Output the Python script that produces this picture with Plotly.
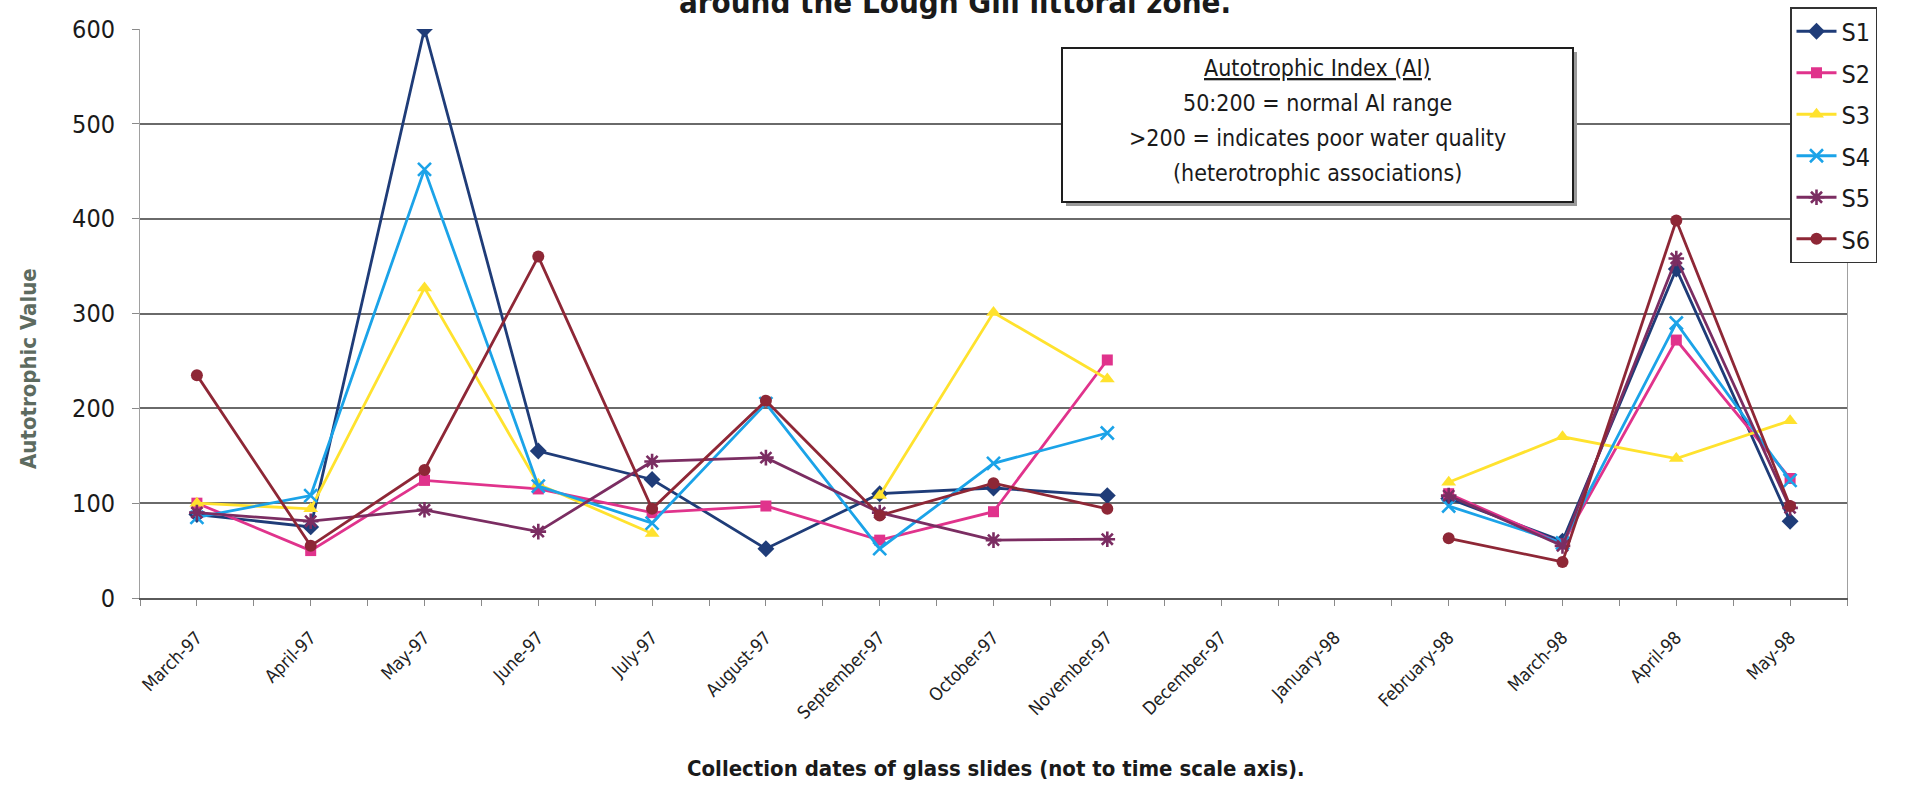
import plotly.graph_objects as go

# Collection dates (category axis, not to time scale)
months = ["March-97", "April-97", "May-97", "June-97", "July-97", "August-97",
          "September-97", "October-97", "November-97", "December-97", "January-98",
          "February-98", "March-98", "April-98", "May-98"]

# Autotrophic index per site (None = no sample)
s1 = [88, 75, 600, 155, 125, 52, 110, 116, 108, None, None, 105, 60, 347, 81]
s2 = [100, 50, 124, 115, 90, 97, 61, 91, 251, None, None, 110, 57, 272, 126]
s3 = [100, 94, 327, 120, 68, None, 108, 301, 231, None, None, 122, 170, 147, 187]
s4 = [85, 108, 452, 118, 79, 205, 52, 142, 174, None, None, 97, 58, 290, 124]
s5 = [90, 81, 93, 70, 144, 148, 90, 61, 62, None, None, 108, 55, 358, 95]
s6 = [235, 55, 135, 360, 94, 208, 87, 121, 94, None, None, 63, 38, 398, 97]

y_ticks = [0, 100, 200, 300, 400, 500, 600]

W, H = 1906, 787
L, R, T, B = 140, 1847, 29, 598
FONT = "DejaVu Sans Condensed, DejaVu Sans, sans-serif"


def px_x(px):
    return (px - L) / (R - L)


def px_y(py):
    return (B - py) / (B - T)


xs = list(range(len(months)))

series = [
    ("S1", s1, "#1f3c78", "diamond", 13),
    ("S2", s2, "#e0338c", "square", 11),
    ("S3", s3, "#ffe22e", "triangle-up", 13),
    ("S4", s4, "#1ba3e8", "x-thin-open", 13),
    ("S5", s5, "#7b2d62", "asterisk-open", 13),
    ("S6", s6, "#8e2736", "circle", 12),
]

fig = go.Figure()
for name, vals, color, sym, size in series:
    open_sym = sym.endswith("-open")
    fig.add_trace(go.Scatter(
        x=xs, y=vals, name=name, mode="lines+markers",
        legendgroup=name,
        line=dict(color=color, width=2.8),
        marker=dict(symbol=sym, size=size, color=color,
                    line=dict(color=color, width=2.6 if open_sym else 0)),
    ))

boundaries = [i - 0.5 for i in range(len(months) + 1)]

fig.update_layout(
    width=W, height=H,
    margin=dict(l=L, r=W - R, t=T, b=H - B, pad=0, autoexpand=False),
    paper_bgcolor="white", plot_bgcolor="white",
    font=dict(family=FONT, color="#1a1a1a"),
    showlegend=True,
    legend=dict(
        x=px_x(1790), y=px_y(7), xanchor="left", yanchor="top",
        bgcolor="white", bordercolor="#333333", borderwidth=1.5,
        font=dict(size=25, family=FONT, color="#1a1a1a"),
        tracegroupgap=6, itemwidth=40,
    ),
    xaxis=dict(
        range=[-0.5, len(months) - 0.5],
        tickmode="array", tickvals=xs, ticktext=months,
        tickangle=-45, tickfont=dict(size=18, family=FONT, color="#222"),
        ticks="outside", ticklen=6, tickwidth=1, tickcolor="#8a8a8a",
        ticklabelstandoff=14,
        minor=dict(tickmode="array", tickvals=boundaries, ticks="outside",
                   ticklen=6, tickwidth=1, tickcolor="#8a8a8a"),
        showline=True, linecolor="#5a5a5a", linewidth=2,
        showgrid=False, zeroline=False,
    ),
    xaxis2=dict(
        overlaying="x", anchor="y", side="bottom",
        range=[-0.5, len(months) - 0.5],
        tickmode="array", tickvals=xs, showticklabels=False,
        ticks="inside", ticklen=6, tickwidth=1, tickcolor="#8a8a8a",
        minor=dict(tickmode="array", tickvals=boundaries, ticks="inside",
                   ticklen=6, tickwidth=1, tickcolor="#8a8a8a"),
        showline=False, showgrid=False, zeroline=False,
    ),
    yaxis=dict(
        range=[0, 600], tickmode="array", tickvals=y_ticks,
        tickfont=dict(size=25, family=FONT, color="#1a1a1a"),
        ticks="outside", ticklen=7, tickwidth=1, tickcolor="#8a8a8a",
        ticklabelstandoff=12,
        showgrid=True, gridcolor="#6a6a6a", gridwidth=1.6,
        showline=True, linecolor="#a0a0a0", linewidth=1, mirror=True,
        zeroline=False,
    ),
)

# Information box (shadow + white box) for the AI thresholds
bx0, bx1, by0, by1 = 1062, 1573, 48, 202
fig.add_shape(type="rect", xref="paper", yref="paper", layer="above",
              x0=px_x(bx0 + 4), x1=px_x(bx1 + 4), y0=px_y(by1 + 4), y1=px_y(by0 + 4),
              line=dict(width=0), fillcolor="#9a9a9a")
fig.add_shape(type="rect", xref="paper", yref="paper", layer="above",
              x0=px_x(bx0), x1=px_x(bx1), y0=px_y(by1), y1=px_y(by0),
              line=dict(color="#1e1e1e", width=2), fillcolor="white")

box_lines = [
    ("<u>Autotrophic Index (AI)</u>", 68),
    ("50:200 = normal AI range", 103),
    (">200 = indicates poor water quality", 138),
    ("(heterotrophic associations)", 173),
]
for txt, yc in box_lines:
    fig.add_annotation(text=txt, xref="paper", yref="paper",
                       x=px_x((bx0 + bx1) / 2), y=px_y(yc),
                       xanchor="center", yanchor="middle", showarrow=False,
                       font=dict(size=23, family=FONT, color="#1a1a1a"))

# Chart title (second line, top edge of the page)
fig.add_annotation(text="<b>around the Lough Gill littoral zone.</b>",
                   xref="paper", yref="paper", x=px_x(955), y=px_y(2),
                   xanchor="center", yanchor="middle", showarrow=False,
                   font=dict(size=31, family=FONT, color="#1a1a1a"))

# Axis titles
fig.add_annotation(text="<b>Autotrophic Value</b>", textangle=-90,
                   xref="paper", yref="paper", x=px_x(28), y=px_y(369),
                   xanchor="center", yanchor="middle", showarrow=False,
                   font=dict(size=22, family=FONT, color="#5d6b60"))
fig.add_annotation(text="<b>Collection dates of glass slides (not to time scale axis).</b>",
                   xref="paper", yref="paper", x=px_x(996), y=px_y(768),
                   xanchor="center", yanchor="middle", showarrow=False,
                   font=dict(size=22, family=FONT, color="#1a1a1a"))

fig.write_html("out.html")
